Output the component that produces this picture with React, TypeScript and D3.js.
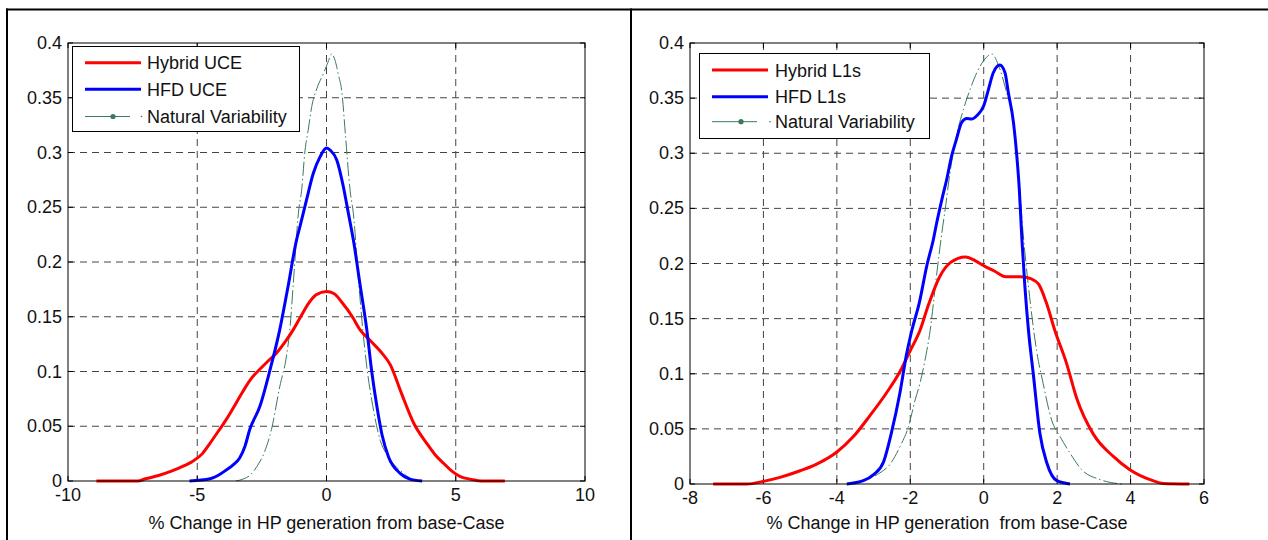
import React from "react";
import * as d3 from "d3";

// ---------- data ----------
const leftXTicks = [-10, -5, 0, 5, 10];
const rightXTicks = [-8, -6, -4, -2, 0, 2, 4, 6];
const yTicks = [0, 0.05, 0.1, 0.15, 0.2, 0.25, 0.3, 0.35, 0.4];

const leftLegend = ["Hybrid UCE", "HFD UCE", "Natural Variability"];
const rightLegend = ["Hybrid L1s", "HFD L1s", "Natural Variability"];
const leftXLabel = "% Change in HP generation from base-Case";
const rightXLabel = "% Change in HP generation  from base-Case";

const hybridUce: [number, number][] = [
  [-8.9, 0], [-7.3, 0], [-7.0, 0.002], [-6.5, 0.005], [-6.0, 0.009], [-5.5, 0.014], [-5.17, 0.018],
  [-4.8, 0.025], [-4.52, 0.034], [-4.2, 0.045], [-3.88, 0.056], [-3.5, 0.071], [-3.23, 0.082],
  [-2.9, 0.094], [-2.58, 0.102], [-2.2, 0.111], [-1.93, 0.117], [-1.6, 0.127], [-1.29, 0.138],
  [-1.0, 0.15], [-0.7, 0.162], [-0.4, 0.17], [0, 0.173], [0.3, 0.171], [0.6, 0.163], [1.0, 0.15],
  [1.3, 0.138], [1.7, 0.128], [2.1, 0.118], [2.47, 0.106], [2.9, 0.08], [3.37, 0.053], [3.89, 0.034],
  [4.2, 0.024], [4.54, 0.016], [4.85, 0.009], [5.18, 0.004], [5.6, 0.0015], [6.0, 0], [6.9, 0],
];
const hfdUce: [number, number][] = [
  [-5.3, 0], [-4.5, 0.002], [-4.2, 0.005], [-3.88, 0.01], [-3.6, 0.015], [-3.36, 0.021], [-3.15, 0.032],
  [-2.97, 0.047], [-2.58, 0.068], [-2.19, 0.101], [-1.81, 0.138], [-1.5, 0.176], [-1.16, 0.22],
  [-1.03, 0.232], [-0.77, 0.257], [-0.51, 0.281], [-0.25, 0.296], [0, 0.304], [0.15, 0.302],
  [0.4, 0.293], [0.65, 0.269], [0.85, 0.244], [1.04, 0.22], [1.3, 0.179], [1.56, 0.138], [1.75, 0.1],
  [1.95, 0.068], [2.15, 0.042], [2.4, 0.022], [2.85, 0.007], [3.2, 0.002], [3.7, 0],
];
const nvLeft: [number, number][] = [
  [-3.5, 0], [-3.2, 0.002], [-2.97, 0.005], [-2.7, 0.013], [-2.39, 0.027], [-2.13, 0.047], [-1.81, 0.086],
  [-1.55, 0.114], [-1.42, 0.138], [-1.25, 0.192], [-1.09, 0.244], [-0.96, 0.266], [-0.83, 0.302],
  [-0.71, 0.32], [-0.57, 0.342], [-0.38, 0.358], [-0.12, 0.372], [0.05, 0.382], [0.2, 0.39],
  [0.32, 0.385], [0.46, 0.371], [0.59, 0.356], [0.74, 0.314], [0.91, 0.266], [1.04, 0.244],
  [1.25, 0.18], [1.43, 0.132], [1.56, 0.104], [1.75, 0.074], [2.08, 0.037], [2.4, 0.022],
  [2.98, 0.007], [3.37, 0.001], [3.6, 0],
];

const hybridL1s: [number, number][] = [
  [-7.37, 0], [-6.46, 0], [-6.0, 0.0024], [-5.55, 0.006], [-5.0, 0.012], [-4.55, 0.018], [-4.0, 0.029],
  [-3.55, 0.043], [-3.1, 0.062], [-2.64, 0.083], [-2.28, 0.102], [-2.0, 0.121], [-1.74, 0.139],
  [-1.5, 0.163], [-1.2, 0.188], [-0.9, 0.201], [-0.5, 0.206], [-0.2, 0.202], [0, 0.198], [0.3, 0.193],
  [0.6, 0.188], [1.0, 0.188], [1.3, 0.186], [1.5, 0.181], [1.7, 0.165], [1.94, 0.139], [2.26, 0.109],
  [2.53, 0.078], [2.99, 0.045], [3.53, 0.025], [3.98, 0.013], [4.53, 0.004], [4.9, 0.0005], [5.6, 0],
];
const hfdL1s: [number, number][] = [
  [-3.73, 0], [-3.28, 0.003], [-3.0, 0.0085], [-2.73, 0.02], [-2.51, 0.047], [-2.28, 0.083],
  [-2.1, 0.118], [-1.96, 0.139], [-1.75, 0.165], [-1.55, 0.198], [-1.37, 0.222], [-1.28, 0.237],
  [-1.14, 0.258], [-1.01, 0.276], [-0.87, 0.298], [-0.74, 0.313], [-0.6, 0.328], [-0.46, 0.3315],
  [-0.33, 0.331], [-0.19, 0.334], [0, 0.343], [0.13, 0.358], [0.26, 0.373], [0.44, 0.38],
  [0.58, 0.373], [0.67, 0.355], [0.81, 0.328], [0.9, 0.298], [0.97, 0.267], [1.04, 0.222],
  [1.12, 0.18], [1.22, 0.139], [1.35, 0.1], [1.53, 0.046], [1.72, 0.019], [1.99, 0.003], [2.35, 0],
];
const nvRight: [number, number][] = [
  [-3.5, 0], [-3.28, 0.003], [-2.83, 0.01], [-2.55, 0.018], [-2.28, 0.034], [-2.05, 0.052],
  [-1.87, 0.076], [-1.74, 0.091], [-1.55, 0.121], [-1.46, 0.139], [-1.3, 0.185], [-1.14, 0.228],
  [-1.05, 0.249], [-0.92, 0.282], [-0.74, 0.316], [-0.55, 0.34], [-0.37, 0.358], [-0.19, 0.373],
  [0, 0.384], [0.22, 0.39], [0.4, 0.38], [0.6, 0.358], [0.81, 0.328], [0.99, 0.262], [1.08, 0.225],
  [1.25, 0.17], [1.44, 0.121], [1.62, 0.091], [1.85, 0.058], [2.08, 0.043], [2.35, 0.028],
  [2.67, 0.013], [3.17, 0.004], [3.76, 0],
];

// ---------- styles ----------
const FONT = "'Liberation Sans', Arial, Helvetica, sans-serif";
const RED = "#ff0000";
const BLUE = "#0000ff";
const GREEN = "#3c7a5b";
const GRID = "#444";

type PanelProps = {
  x0: number; x1: number; y0: number; y1: number;
  xDomain: [number, number];
  xTicks: number[];
  hybrid: [number, number][];
  hfd: [number, number][];
  nv: [number, number][];
  legend: string[];
  legendBox: { x: number; y: number; w: number; h: number; lx0: number; lx1: number; gx1: number; dot: number; dot2: number; tx: number; rows: number[] };
  xLabel: string;
  xLabelY: number;
};

function Panel(p: PanelProps) {
  const x = d3.scaleLinear().domain(p.xDomain).range([p.x0, p.x1]);
  const y = d3.scaleLinear().domain([0, 0.4]).range([p.y1, p.y0]);
  const line = d3.line<[number, number]>().x((d) => x(d[0])).y((d) => y(d[1])).curve(d3.curveMonotoneX);
  const fmtY = (v: number) => String(+v.toFixed(2));
  const tl = 5;
  const lb = p.legendBox;
  const xc = (p.x0 + p.x1) / 2;
  return (
    <g fontFamily={FONT} fontSize={18} fill="#111">
      {/* grid */}
      {p.xTicks.slice(1, -1).map((t) => (
        <line key={"gx" + t} x1={x(t)} x2={x(t)} y1={p.y0} y2={p.y1} stroke={GRID} strokeDasharray="7,5" strokeWidth={1} />
      ))}
      {yTicks.slice(1, -1).map((t) => (
        <line key={"gy" + t} x1={p.x0} x2={p.x1} y1={y(t)} y2={y(t)} stroke={GRID} strokeDasharray="7,5" strokeWidth={1} />
      ))}
      {/* ticks */}
      {p.xTicks.map((t) => (
        <g key={"tx" + t}>
          <line x1={x(t)} x2={x(t)} y1={p.y1} y2={p.y1 - tl} stroke="#000" />
          <line x1={x(t)} x2={x(t)} y1={p.y0} y2={p.y0 + tl} stroke="#000" />
          <text x={x(t)} y={p.y1 + 20} textAnchor="middle">{t}</text>
        </g>
      ))}
      {yTicks.map((t) => (
        <g key={"ty" + t}>
          <line x1={p.x0} x2={p.x0 + tl} y1={y(t)} y2={y(t)} stroke="#000" />
          <line x1={p.x1} x2={p.x1 - tl} y1={y(t)} y2={y(t)} stroke="#000" />
          <text x={p.x0 - 6} y={y(t) + 6} textAnchor="end">{fmtY(t)}</text>
        </g>
      ))}
      {/* curves */}
      <path d={line(p.nv) || ""} fill="none" stroke={GREEN} strokeWidth={1} strokeDasharray="14,3,1.5,3" />
      <path d={line(p.hybrid) || ""} fill="none" stroke={RED} strokeWidth={3} strokeLinejoin="round" />
      <path d={line(p.hfd) || ""} fill="none" stroke={BLUE} strokeWidth={3} strokeLinejoin="round" />
      {/* box */}
      <rect x={p.x0} y={p.y0} width={p.x1 - p.x0} height={p.y1 - p.y0} fill="none" stroke="#000" strokeWidth={1} />
      {/* legend */}
      <rect x={lb.x} y={lb.y} width={lb.w} height={lb.h} fill="#fff" stroke="#000" strokeWidth={1} />
      <line x1={lb.lx0} x2={lb.lx1} y1={lb.rows[0]} y2={lb.rows[0]} stroke={RED} strokeWidth={3} />
      <line x1={lb.lx0} x2={lb.lx1} y1={lb.rows[1]} y2={lb.rows[1]} stroke={BLUE} strokeWidth={3} />
      <line x1={lb.lx0} x2={lb.gx1} y1={lb.rows[2]} y2={lb.rows[2]} stroke={GREEN} strokeWidth={1} />
      <circle cx={lb.dot} cy={lb.rows[2]} r={2.6} fill={GREEN} />
      <circle cx={lb.dot2} cy={lb.rows[2]} r={0.8} fill={GREEN} />
      {p.legend.map((s, i) => (
        <text key={s} x={lb.tx} y={lb.rows[i] + 6.5}>{s}</text>
      ))}
      {/* x label */}
      <text x={xc} y={p.xLabelY} textAnchor="middle" style={{ whiteSpace: "pre" }}>{p.xLabel}</text>
    </g>
  );
}

export default function App() {
  return (
    <svg width={1268} height={540} style={{ position: "absolute", left: 0, top: 0, background: "#fff" }}>
      <rect x={0} y={0} width={1268} height={540} fill="#fff" />
      {/* outer frame */}
      <line x1={6} x2={1268} y1={9.5} y2={9.5} stroke="#000" strokeWidth={2} />
      <line x1={7} x2={7} y1={8.5} y2={540} stroke="#000" strokeWidth={2} />
      <line x1={631} x2={631} y1={8.5} y2={540} stroke="#000" strokeWidth={2} />
      <Panel
        x0={68} x1={585} y0={43} y1={481}
        xDomain={[-10, 10]} xTicks={leftXTicks}
        hybrid={hybridUce} hfd={hfdUce} nv={nvLeft}
        legend={leftLegend}
        legendBox={{ x: 72.5, y: 46.5, w: 227, h: 85, lx0: 85, lx1: 141, gx1: 130, dot: 113, dot2: 141.5, tx: 147, rows: [62.7, 89.3, 116.5] }}
        xLabel={leftXLabel} xLabelY={529}
      />
      <Panel
        x0={690} x1={1204} y0={43} y1={484}
        xDomain={[-8, 6]} xTicks={rightXTicks}
        hybrid={hybridL1s} hfd={hfdL1s} nv={nvRight}
        legend={rightLegend}
        legendBox={{ x: 699.5, y: 53.5, w: 230, h: 85, lx0: 712, lx1: 768, gx1: 757, dot: 741, dot2: 770, tx: 775, rows: [70, 96.7, 121.7] }}
        xLabel={rightXLabel} xLabelY={529}
      />
    </svg>
  );
}
